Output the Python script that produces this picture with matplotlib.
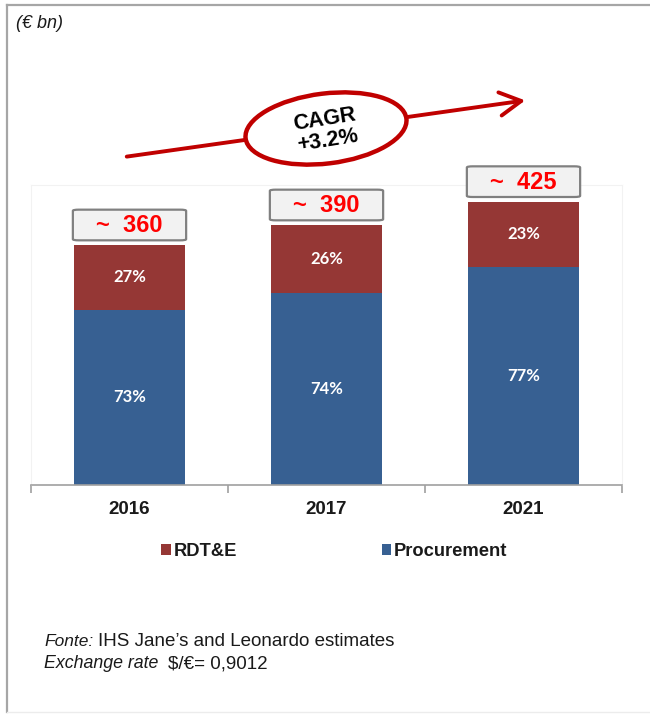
import matplotlib
matplotlib.use("Agg")
import matplotlib.pyplot as plt
from matplotlib.patches import FancyBboxPatch, Ellipse, FancyArrowPatch
from matplotlib.lines import Line2D

# Data (€ bn)
years = ["2016", "2017", "2021"]
totals = [360, 390, 425]
procurement_pct = [73, 74, 77]
rdte_pct = [27, 26, 23]
total_labels = ["~  360", "~  390", "~  425"]
cagr_label = "CAGR\n+3.2%"

RED = "#953735"
BLUE = "#376092"
ARROW_RED = "#c00000"
TEXT = "#1a1a1a"
SANS = ["Liberation Sans", "DejaVu Sans"]

W, H = 650, 714
DPI = 100
fig = plt.figure(figsize=(W / DPI, H / DPI), dpi=DPI)
fig.patch.set_facecolor("white")


def px(x, y):
    """Pixel position (origin top-left) -> inches for dpi_scale_trans."""
    return (x / DPI, (H - y) / DPI)


inch = fig.dpi_scale_trans

# Outer frame of the panel
fig.add_artist(Line2D([7 / DPI, 7 / DPI], [(H - 5) / DPI, (H - 712) / DPI],
                      transform=inch, color="#a6a6a6", lw=1.6))
fig.add_artist(Line2D([7 / DPI, W / DPI], [(H - 5) / DPI, (H - 5) / DPI],
                      transform=inch, color="#a6a6a6", lw=1.6))
fig.add_artist(Line2D([7 / DPI, W / DPI], [(H - 712) / DPI, (H - 712) / DPI],
                      transform=inch, color="#ececec", lw=1.0))

# Plot area
left, right, top, bottom = 31, 622, 185, 485
ax = fig.add_axes([left / W, 1 - bottom / H, (right - left) / W, (bottom - top) / H])
ax.set_xlim(-0.5, 2.5)
ax.set_ylim(0, 450)

x = list(range(len(years)))
proc_vals = [t * p / 100 for t, p in zip(totals, procurement_pct)]
rdte_vals = [t * r / 100 for t, r in zip(totals, rdte_pct)]
bw = 0.56

bars_p = ax.bar(x, proc_vals, width=bw, color=BLUE, label="Procurement", zorder=2)
bars_r = ax.bar(x, rdte_vals, width=bw, bottom=proc_vals, color=RED, label="RDT&E", zorder=2)

pct_font = dict(family=["Lato", "DejaVu Sans"], fontsize=12, fontweight="bold", color="white")
for xi, pv, rv, pp, rp in zip(x, proc_vals, rdte_vals, procurement_pct, rdte_pct):
    ax.text(xi, pv / 2, f"{pp}%", ha="center", va="center", **pct_font)
    ax.text(xi, pv + rv / 2, f"{rp}%", ha="center", va="center", **pct_font)

# Total value boxes above each bar
box_w, box_h, gap = 0.575, 46, 7
for xi, t, lab in zip(x, totals, total_labels):
    b = FancyBboxPatch((xi - box_w / 2, t + gap), box_w, box_h,
                       boxstyle="round,pad=0,rounding_size=0.03",
                       mutation_aspect=60,
                       facecolor="#f2f2f2", edgecolor="#808080", lw=1.6,
                       clip_on=False, zorder=3)
    ax.add_patch(b)
    ax.text(xi, t + gap + box_h / 2 - 1, lab, ha="center", va="center",
            family=SANS, fontsize=17, fontweight="bold", color="#ff0000",
            zorder=4, clip_on=False)

# Axes styling
for s in ["left", "right", "top"]:
    ax.spines[s].set_color("#f2f2f2")
    ax.spines[s].set_linewidth(0.8)
ax.spines["bottom"].set_color("#a0a0a0")
ax.spines["bottom"].set_linewidth(1.2)
ax.set_yticks([])
ax.set_xticks([-0.5, 0.5, 1.5, 2.5])
ax.set_xticklabels([])
ax.tick_params(axis="x", length=6, width=1.2, color="#a0a0a0", direction="out")
for xi, yr in zip(x, years):
    ax.text(xi, -36, yr, ha="center", va="center", family=SANS, fontsize=13.5,
            fontweight="bold", color=TEXT, clip_on=False)

# Legend
leg = ax.legend(handles=[bars_r, bars_p], labels=["RDT&E", "Procurement"],
                ncol=2, loc="center", bbox_to_anchor=(0.513, -0.222),
                frameon=False, handlelength=0.5, handleheight=0.5,
                handletextpad=0.15, columnspacing=7.9,
                prop=dict(family=SANS, size=13.2, weight="bold"))
for t in leg.get_texts():
    t.set_color(TEXT)

# Unit label
fig.text(16 / W, 1 - 24 / H, "(€ bn)", ha="left", va="center",
         family=SANS, fontsize=13, style="italic", color=TEXT)

# Growth arrow with CAGR ellipse
arrow = FancyArrowPatch(px(124, 157), px(528, 100), transform=inch,
                        arrowstyle="->,head_length=1.1,head_width=0.6",
                        mutation_scale=14, color=ARROW_RED, lw=2.8)
fig.add_artist(arrow)
ell = Ellipse(px(326, 128.5), 162 / DPI, 70 / DPI, angle=7, transform=inch,
              facecolor="white", edgecolor=ARROW_RED, lw=3.2, zorder=5)
fig.add_artist(ell)
fig.text(*px(326, 130), cagr_label, transform=inch, ha="center", va="center",
         rotation=9, family=SANS, fontsize=15.5, fontweight="bold",
         color="black", linespacing=1.0, zorder=6)

# Source notes
fig.text(44 / W, 1 - 641 / H, "Fonte:", ha="left", va="center",
         family=SANS, fontsize=12.5, style="italic", color=TEXT)
fig.text(98 / W, 1 - 641 / H, "IHS Jane’s and Leonardo estimates", ha="left", va="center",
         family=SANS, fontsize=13.5, color=TEXT)
fig.text(44 / W, 1 - 664 / H, "Exchange rate", ha="left", va="center",
         family=SANS, fontsize=12.8, style="italic", color=TEXT)
fig.text(168 / W, 1 - 664 / H, "$/€= 0,9012", ha="left", va="center",
         family=SANS, fontsize=13.5, color=TEXT)

fig.savefig("out.png", dpi=DPI, facecolor="white")
